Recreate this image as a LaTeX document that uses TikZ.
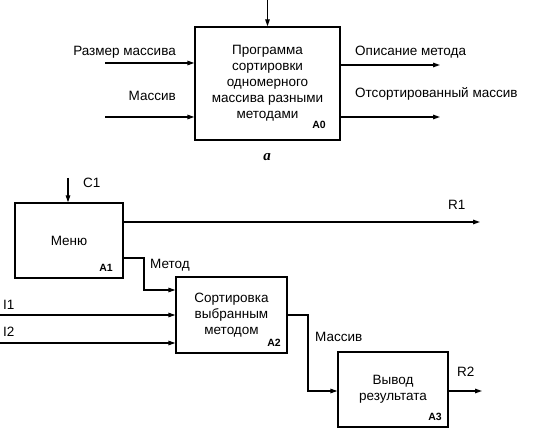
\documentclass[tikz,border=0pt]{standalone}
\usepackage{fontspec}
\setmainfont{Liberation Sans}
\newfontfamily\figfont{Liberation Serif}
\usetikzlibrary{positioning,arrows.meta}

\begin{document}
\begin{tikzpicture}[
  x=1pt, y=-1pt,
  % one pixel of the sheet is one point here, y grows downwards
  func/.style = {draw, line width=1.3pt, inner sep=0pt, align=center,
                 font=\fontsize{13.5}{16}\selectfont},
  num/.style  = {font=\bfseries\fontsize{10.5}{12}\selectfont, inner sep=0pt, anchor=base east},
  lbl/.style  = {font=\fontsize{13.5}{16}\selectfont, inner sep=0pt},
  flow/.style = {-{Triangle[length=7pt,width=4.5pt]}, line width=1.3pt},
]
\useasboundingbox (0,0) rectangle (541,430);

% ---------------------------------------------------------------- context --
\node[func, minimum width=145pt, minimum height=113pt] (a0) at (267.5,83.5)
  {Программа\\сортировки\\одномерного\\массива разными\\методами};
\node[num] (n0) at (326,129) {A0};

\coordinate (c0) at (267.5,0);
\coordinate (i0a) at (105,63);
\coordinate (i0b) at (105,117);
\coordinate (o0a) at (440,65);
\coordinate (o0b) at (440,117);

\draw[flow] (c0) -- (a0.north);
\draw[flow] (i0a) -- (i0a -| a0.west);
\draw[flow] (i0b) -- (i0b -| a0.west);
\draw[flow] (o0a -| a0.east) -- (o0a);
\draw[flow] (o0b -| a0.east) -- (o0b);

\node[lbl, anchor=base east] (tsize) at (176,56) {Размер массива};
\node[lbl, anchor=base east] (tarr)  at (176,101) {Массив};
\node[lbl, anchor=base west] (tdesc) at (355,56) {Описание метода};
\node[lbl, anchor=base west] (tsort) at (355,98) {Отсортированный массив};

\node[font=\figfont\bfseries\itshape\fontsize{15}{16}\selectfont] (cap) at (267,157) {a};

% ------------------------------------------------------------ decomposition --
\node[func, minimum width=108pt, minimum height=75pt] (a1) at (69,240.5) {Меню};
\node[num] (n1) at (113,272) {A1};
\node[func, minimum width=111pt, minimum height=76pt] (a2) at (231.5,315)
  {Сортировка\\выбранным\\методом};
\node[num] (n2) at (281,347) {A2};
\node[func, minimum width=110pt, minimum height=75pt] (a3) at (393,389.5)
  {Вывод\\результата};
\node[num] (n3) at (442,420) {A3};

\coordinate (c1) at (68,178);
\coordinate (r1) at (480,222);
\coordinate (i1) at (0,315);
\coordinate (i2) at (0,343);
\coordinate (k1) at (144,290);
\coordinate (k2) at (308,391);
\coordinate (r2) at (482,391);

\draw[flow] (c1) -- (c1 |- a1.north);
\draw[flow] (r1 -| a1.east) -- (r1);
\draw[flow] ([yshift=-17.5pt]a1.east) -| (k1) -- (k1 -| a2.west);
\draw[flow] (i1) -- (i1 -| a2.west);
\draw[flow] (i2) -- (i2 -| a2.west);
\draw[flow] (a2.east) -| (k2) -- (k2 -| a3.west);
\draw[flow] (r2 -| a3.east) -- (r2);

\node[lbl, anchor=base west] (tc1) at (83,188) {C1};
\node[lbl, anchor=base west] (tr1) at (448,210) {R1};
\node[lbl, anchor=base west] (tmeth) at (150,269) {Метод};
\node[lbl, anchor=base west] (ti1) at (3,310) {I1};
\node[lbl, anchor=base west] (ti2) at (3,337) {I2};
\node[lbl, anchor=base west] (tarr2) at (315,342) {Массив};
\node[lbl, anchor=base west] (tr2) at (457,377) {R2};

\end{tikzpicture}
\end{document}
